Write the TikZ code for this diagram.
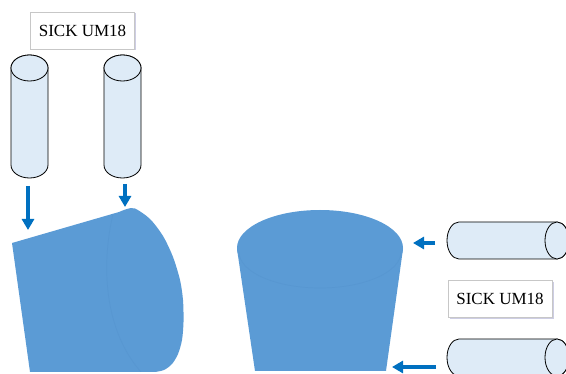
\documentclass[tikz,border=0pt]{standalone}
\usepackage{fontspec}
\setmainfont{Liberation Serif}
\usetikzlibrary{arrows.meta,shadows}

\definecolor{bodyblue}{RGB}{91,155,213}
\definecolor{pushblue}{RGB}{0,112,192}
\definecolor{sensorfill}{RGB}{222,235,247}
\definecolor{seamblue}{RGB}{75,135,195}

\tikzset{
  sensor/.style={draw=black,line width=0.8pt,fill=sensorfill},
  tag/.style={draw=black!22,fill=white,minimum width=104pt,minimum height=37pt,
    font=\fontsize{17}{20}\selectfont,
    drop shadow={shadow xshift=1.5pt,shadow yshift=-1.5pt,opacity=0.3,fill=blue!30!gray}},
  push/.style={pushblue,line width=4pt,-{Triangle[width=12pt,length=11pt]}},
  seam/.style={seamblue,line width=0.7pt,opacity=0.22}
}

\begin{document}
\begin{tikzpicture}[x=1pt,y=-1pt]
  \clip (0,0) rectangle (566,374);

  % Tilted piece under the upright sensors, with its end face seam.
  \fill[bodyblue] (12,243) -- plot[smooth] coordinates
    {(119,212) (127,209) (135,208.5) (150,219) (163,236) (173,257) (180,280)
     (183,300) (183.5,322) (182,340) (178,354) (172,364) (164,370) (155,372)}
    -- (30,372) -- cycle;
  \draw[seam] (113,214) .. controls (101,265) and (104,330) .. (141,372);

  % Upright piece seen from the side.
  \fill[bodyblue] (237,249) -- (255,371) -- (386,371) -- (403,249) -- cycle;
  \fill[bodyblue] (320,248) ellipse [x radius=83pt,y radius=38pt];
  \draw[seam] (239,252) arc[start angle=180,end angle=360,x radius=81pt,y radius=36pt];

  % Upright sensors.
  \foreach \cx in {29.5,122.5}{
    \draw[sensor] (\cx-18.5,68) -- (\cx-18.5,165)
      arc[start angle=180,end angle=360,x radius=18.5pt,y radius=13pt]
      -- (\cx+18.5,68)
      arc[start angle=0,end angle=180,x radius=18.5pt,y radius=13pt] -- cycle;
    \draw[sensor] (\cx,68) ellipse [x radius=18.5pt,y radius=13pt];
  }

  % Sensors lying beside the upright piece.
  \foreach \cy in {240.5,357.5}{
    \draw[sensor] (459,\cy-18.5) -- (557,\cy-18.5)
      arc[start angle=90,end angle=-90,x radius=12pt,y radius=18.5pt]
      -- (459,\cy+18.5)
      arc[start angle=270,end angle=90,x radius=12pt,y radius=18.5pt] -- cycle;
    \draw[sensor] (557,\cy) ellipse [x radius=12pt,y radius=18.5pt];
  }

  \node[tag] (tagTop) at (82.5,30.5) {SICK UM18};
  \node[tag] (tagSide) at (500,299) {SICK UM18};

  % Measuring directions.
  \coordinate (tailA) at (28,186);
  \coordinate (hitA) at (28,230);
  \coordinate (tailB) at (125,184);
  \coordinate (hitB) at (125,207);
  \coordinate (tailC) at (435,243);
  \coordinate (hitC) at (413,243);
  \coordinate (tailD) at (436,367);
  \coordinate (hitD) at (392,367);
  \draw[push] (tailA) -- (hitA);
  \draw[push] (tailB) -- (hitB);
  \draw[push] (tailC) -- (hitC);
  \draw[push] (tailD) -- (hitD);
\end{tikzpicture}
\end{document}
